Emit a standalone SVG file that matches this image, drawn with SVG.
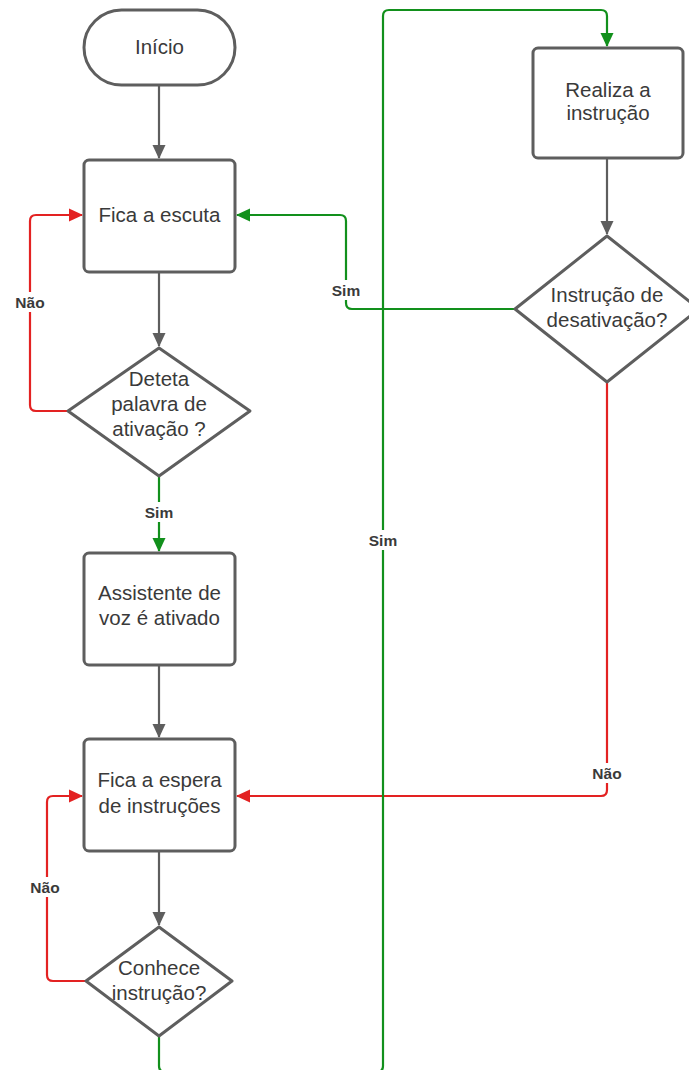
<svg xmlns="http://www.w3.org/2000/svg" width="689" height="1070" viewBox="0 0 689 1070">
  <defs>
    <style>
      .node { fill: #ffffff; stroke: #5e5e5e; stroke-width: 3; }
      .txt { font-family: "Liberation Sans", Arial, sans-serif; font-size: 20.5px; fill: #3a3a3a; text-anchor: middle; }
      .lbl { font-family: "Liberation Sans", Arial, sans-serif; font-size: 15.5px; font-weight: bold; fill: #3a3a3a; text-anchor: middle; }
      .gray { fill: none; stroke: #5e5e5e; stroke-width: 2.2; }
      .red { fill: none; stroke: #e32222; stroke-width: 2.2; }
      .green { fill: none; stroke: #12901c; stroke-width: 2.2; }
      .lblbg { fill: #ffffff; }
    </style>
    <marker id="ah-gray" viewBox="0 0 14 14" refX="13" refY="7" markerWidth="14" markerHeight="14" markerUnits="userSpaceOnUse" orient="auto">
      <path d="M0,0.5 L14,7 L0,13.5 z" fill="#5e5e5e"/>
    </marker>
    <marker id="ah-red" viewBox="0 0 14 14" refX="13" refY="7" markerWidth="14" markerHeight="14" markerUnits="userSpaceOnUse" orient="auto">
      <path d="M0,0.5 L14,7 L0,13.5 z" fill="#e32222"/>
    </marker>
    <marker id="ah-green" viewBox="0 0 14 14" refX="13" refY="7" markerWidth="14" markerHeight="14" markerUnits="userSpaceOnUse" orient="auto">
      <path d="M0,0.5 L14,7 L0,13.5 z" fill="#12901c"/>
    </marker>
  </defs>

  <rect width="689" height="1070" fill="#ffffff"/>

  <!-- connectors -->
  <g id="connectors">
    <!-- main flow -->
    <path class="gray" d="M159,86 V158" marker-end="url(#ah-gray)"/>
    <path class="gray" d="M159,273 V346" marker-end="url(#ah-gray)"/>
    <path class="green" d="M159,477 V551" marker-end="url(#ah-green)"/>
    <path class="gray" d="M159,666 V737" marker-end="url(#ah-gray)"/>
    <path class="gray" d="M159,852 V925" marker-end="url(#ah-gray)"/>
    <path class="gray" d="M607,159 V234" marker-end="url(#ah-gray)"/>

    <!-- no wake word: back to listening -->
    <path class="red" d="M68,411 H36 Q30,411 30,405 V221 Q30,215 36,215 H82" marker-end="url(#ah-red)"/>
    <!-- unknown instruction: keep waiting -->
    <path class="red" d="M86,981 H53 Q47,981 47,975 V802 Q47,796 53,796 H82" marker-end="url(#ah-red)"/>
    <!-- not a deactivation: back to waiting for instructions -->
    <path class="red" d="M607,383 V790 Q607,796 601,796 H237" marker-end="url(#ah-red)"/>
    <!-- deactivation: back to listening -->
    <path class="green" d="M515,309 H352 Q346,309 346,303 V221 Q346,215 340,215 H237" marker-end="url(#ah-green)"/>
    <!-- known instruction: execute it -->
    <path class="green" d="M159,1036 V1066 Q159,1072 165,1072 H377 Q383,1072 383,1066 V16 Q383,10 389,10 H601 Q607,10 607,16 V46" marker-end="url(#ah-green)"/>

    <!-- labels -->
    <rect class="lblbg" x="12" y="292" width="36" height="20"/>
    <text class="lbl" x="30" y="308">Não</text>
    <rect class="lblbg" x="328" y="280" width="36" height="20"/>
    <text class="lbl" x="346" y="296">Sim</text>
    <rect class="lblbg" x="141" y="502" width="36" height="20"/>
    <text class="lbl" x="159" y="518">Sim</text>
    <rect class="lblbg" x="365" y="530" width="36" height="20"/>
    <text class="lbl" x="383" y="546">Sim</text>
    <rect class="lblbg" x="589" y="763" width="36" height="20"/>
    <text class="lbl" x="607" y="779">Não</text>
    <rect class="lblbg" x="27" y="877" width="36" height="20"/>
    <text class="lbl" x="45" y="893">Não</text>
  </g>

  <!-- nodes -->
  <g id="inicio">
    <rect class="node" x="84" y="10" width="151" height="75" rx="37.5" ry="37.5"/>
    <text class="txt" x="159.5" y="54">Início</text>
  </g>

  <g id="fica-escuta">
    <rect class="node" x="84" y="160" width="151" height="112" rx="5"/>
    <text class="txt" x="159.5" y="222">Fica a escuta</text>
  </g>

  <g id="deteta-palavra">
    <path class="node" d="M159,348 L250,411 L159,476 L68,411 Z" stroke-linejoin="round"/>
    <text class="txt" x="159" y="386">Deteta</text>
    <text class="txt" x="159" y="411">palavra de</text>
    <text class="txt" x="159" y="436">ativação ?</text>
  </g>

  <g id="assistente-ativado">
    <rect class="node" x="84" y="553" width="151" height="112" rx="5"/>
    <text class="txt" x="159.5" y="600">Assistente de</text>
    <text class="txt" x="159.5" y="625">voz é ativado</text>
  </g>

  <g id="fica-espera">
    <rect class="node" x="84" y="739" width="151" height="112" rx="5"/>
    <text class="txt" x="159.5" y="787">Fica a espera</text>
    <text class="txt" x="159.5" y="813">de instruções</text>
  </g>

  <g id="conhece-instrucao">
    <path class="node" d="M159,927 L232,981 L159,1036 L86,981 Z" stroke-linejoin="round"/>
    <text class="txt" x="159" y="975">Conhece</text>
    <text class="txt" x="159" y="1000">instrução?</text>
  </g>

  <g id="realiza-instrucao">
    <rect class="node" x="533" y="48" width="150" height="110" rx="5"/>
    <text class="txt" x="608" y="97">Realiza a</text>
    <text class="txt" x="608" y="120">instrução</text>
  </g>

  <g id="instrucao-desativacao">
    <path class="node" d="M607,236 L699,309 L607,382 L515,309 Z" stroke-linejoin="round"/>
    <text class="txt" x="607" y="302">Instrução de</text>
    <text class="txt" x="607" y="327">desativação?</text>
  </g>
</svg>
